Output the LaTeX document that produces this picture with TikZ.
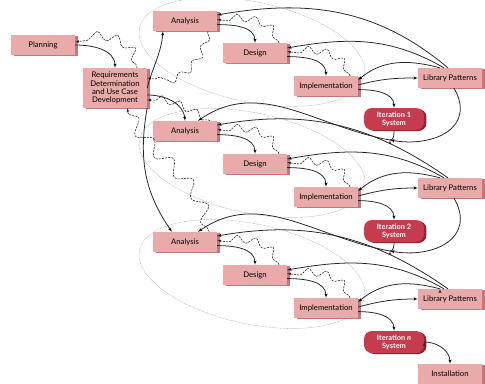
\documentclass[tikz,border=0pt]{standalone}
\usepackage{fontspec}
\setsansfont{Lato}
\usetikzlibrary{arrows}
\usetikzlibrary{shadows}
\usetikzlibrary{decorations.pathmorphing}
\definecolor{boxfill}{RGB}{233,170,170}
\definecolor{boxedge}{RGB}{196,118,122}
\definecolor{iterfill}{RGB}{198,60,78}
\definecolor{iteredge}{RGB}{150,30,48}
\definecolor{linecol}{RGB}{35,35,35}
\definecolor{phasecol}{RGB}{165,165,165}

\begin{document}
\begin{tikzpicture}[x=0.5mm,y=0.5mm,>=latex',
    box/.style={rectangle,fill=boxfill,minimum width=32mm,minimum height=10mm,
      inner sep=1pt,align=center,font=\sffamily\fontsize{11}{11.6}\selectfont,
      general shadow={fill=boxedge,shadow xshift=1.3mm,shadow yshift=-0.6mm}},
    iter/.style={rectangle,rounded corners=4mm,fill=iterfill,minimum width=30mm,
      minimum height=11mm,inner sep=1pt,align=center,text=white,
      font=\sffamily\bfseries\fontsize{10.5}{11.5}\selectfont,
      general shadow={fill=iteredge,shadow xshift=1.2mm,shadow yshift=-0.5mm}},
    flow/.style={->,draw=linecol,line width=1.1pt},
    back/.style={->,draw=linecol,line width=0.8pt,dash pattern=on 3pt off 1.5pt,
      decorate,decoration={snake,amplitude=5pt,segment length=26pt,
      pre length=3pt,post length=5pt}},
    phase/.style={draw=phasecol,line width=0.6pt,dash pattern=on 1pt off 1pt}]
  \useasboundingbox (0,0) rectangle (485,-383);

  % phase ellipses
  \draw[phase,rotate around={-12:(252,-52)}] (252,-52) ellipse [x radius=115,y radius=50];
  \draw[phase,rotate around={-12:(252,-163)}] (252,-163) ellipse [x radius=115,y radius=50];
  \draw[phase,rotate around={-12:(252,-274)}] (252,-274) ellipse [x radius=115,y radius=50];

  \node[box] (plan) at (43,-45) {Planning};
  \node[box,minimum height=20mm] (req) at (115,-88)
    {Requirements\\Determination\\and Use Case\\Development};

  \node[box] (an1) at (185,-21) {Analysis};
  \node[box] (de1) at (255,-53) {Design};
  \node[box] (im1) at (326,-86) {Implementation};
  \node[box] (lp1) at (450,-78) {Library Patterns};
  \node[iter] (it1) at (394,-119) {Iteration 1\\System};

  \node[box] (an2) at (185,-131) {Analysis};
  \node[box] (de2) at (255,-164) {Design};
  \node[box] (im2) at (326,-197) {Implementation};
  \node[box] (lp2) at (450,-188) {Library Patterns};
  \node[iter] (it2) at (394,-231) {Iteration 2\\System};

  \node[box] (an3) at (185,-242) {Analysis};
  \node[box] (de3) at (255,-275) {Design};
  \node[box] (im3) at (326,-308) {Implementation};
  \node[box] (lp3) at (450,-299) {Library Patterns};
  \node[iter] (itn) at (394,-342) {Iteration \textit{n}\\System};
  \node[box] (inst) at (450,-374) {Installation};

  \coordinate (j1) at (390,-140);
  \coordinate (j2) at (390,-251);

  % forward flow
  \draw[flow]
        (plan.east) edge[out=0,in=90] (req.north)
        (req.east) edge[out=75,in=-95] ([xshift=-11mm]an1.south)
        ([yshift=-3.5mm]req.east) edge[out=0,in=95] (an2.north)
        (req.south east) edge[out=-100,in=125] ([xshift=-6.5mm]an3.north)
        (itn.east) edge[out=0,in=90] (inst.north);
  \draw[flow]
        ([yshift=-1.8mm]an1.east) edge[out=0,in=90] (de1.north)
        ([yshift=-1.8mm]de1.east) edge[out=0,in=90] (im1.north)
        ([yshift=-1.8mm]im1.east) edge[out=0,in=90] (it1.north)
        ([yshift=0.5mm]im1.east) edge[out=15,in=180] (lp1.west)
        ([xshift=-1mm]lp1.north) edge[out=140,in=10] ([yshift=3mm]an1.east)
        ([xshift=-3mm]lp1.north) edge[out=150,in=10] ([yshift=2.5mm]de1.east)
        ([xshift=-5mm]lp1.north) edge[out=165,in=40] ([yshift=3mm]im1.east)
        ([xshift=2mm]lp1.south) edge[out=-60,in=-10,looseness=1.4] (j1)
        (it1.south) edge[-,out=-90,in=0] (j1)
        (j1) edge[out=170,in=35] ([xshift=6.5mm]an2.north);
  \draw[flow]
        ([yshift=-1.8mm]an2.east) edge[out=0,in=90] (de2.north)
        ([yshift=-1.8mm]de2.east) edge[out=0,in=90] (im2.north)
        ([yshift=-1.8mm]im2.east) edge[out=0,in=90] (it2.north)
        ([yshift=0.5mm]im2.east) edge[out=15,in=180] (lp2.west)
        ([xshift=-1mm]lp2.north) edge[out=145,in=10] ([yshift=3mm]an2.east)
        ([xshift=-3mm]lp2.north) edge[out=150,in=10] ([yshift=2.5mm]de2.east)
        ([xshift=-5mm]lp2.north) edge[out=165,in=40] ([yshift=3mm]im2.east)
        ([xshift=2mm]lp2.south) edge[out=-60,in=-10,looseness=1.4] (j2)
        (it2.south) edge[-,out=-90,in=0] (j2)
        (j2) edge[out=170,in=35] ([xshift=6.5mm]an3.north);
  \draw[flow]
        ([yshift=-1.8mm]an3.east) edge[out=0,in=90] (de3.north)
        ([yshift=-1.8mm]de3.east) edge[out=0,in=90] (im3.north)
        ([yshift=-1.8mm]im3.east) edge[out=0,in=90] (itn.north)
        ([yshift=0.5mm]im3.east) edge[out=15,in=180] (lp3.west)
        ([xshift=-1mm]lp3.north) edge[out=145,in=10] ([yshift=3mm]an3.east)
        ([xshift=-3mm]lp3.north) edge[out=150,in=10] ([yshift=2.5mm]de3.east)
        ([xshift=-5mm]lp3.north) edge[out=165,in=40] ([yshift=3mm]im3.east);

  % feedback (dashed, wavy)
  \draw[back,decoration={amplitude=6pt,segment length=28pt}]
        ([xshift=11mm]req.north) to[out=95,in=10] ([yshift=1.5mm]plan.east);
  \draw[back] ([xshift=11.5mm]an1.south) to[out=-100,in=-10] ([yshift=5mm]req.east);
  \draw[back] ([xshift=12.5mm]an2.north) to[out=150,in=0] ([yshift=-6mm]req.east);
  \draw[back,decoration={amplitude=9pt,segment length=40pt}]
        ([xshift=12mm]an3.north) to[out=100,in=-75] ([xshift=6mm]req.south);
  \draw[back] ([xshift=12mm]de1.north) to[out=110,in=-10] ([yshift=0.8mm]an1.east);
  \draw[back] ([xshift=12mm]im1.north) to[out=110,in=-10] ([yshift=0.8mm]de1.east);
  \draw[back] ([xshift=12mm]de2.north) to[out=110,in=-10] ([yshift=0.8mm]an2.east);
  \draw[back] ([xshift=12mm]im2.north) to[out=110,in=-10] ([yshift=0.8mm]de2.east);
  \draw[back] ([xshift=12mm]de3.north) to[out=110,in=-10] ([yshift=0.8mm]an3.east);
  \draw[back] ([xshift=12mm]im3.north) to[out=110,in=-10] ([yshift=0.8mm]de3.east);
\end{tikzpicture}
\end{document}
